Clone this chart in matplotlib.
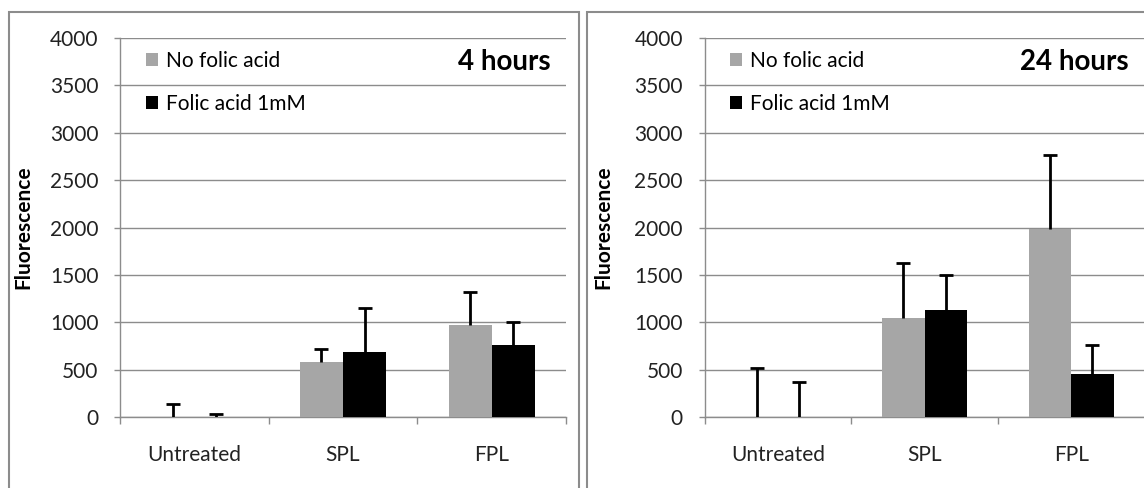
#!/usr/bin/env python3

import numpy as np
import matplotlib
matplotlib.use("Agg")
import matplotlib.pyplot as plt
from matplotlib.patches import Rectangle

plt.rcParams['font.family'] = ['Lato', 'DejaVu Sans']

categories = [ "Untreated", "SPL", "FPL" ]
series_names = [ "No folic acid", "Folic acid 1mM" ]
panel_titles = [ "4 hours", "24 hours" ]

# 4 hours
no_fa_4h = [ 3, 582, 968 ]
no_fa_4h_err = [ 135, 135, 355 ]
fa_4h = [ 2, 688, 760 ]
fa_4h_err = [ 25, 458, 247 ]

# 24 hours
no_fa_24h = [ 3, 1045, 1984 ]
no_fa_24h_err = [ 518, 580, 778 ]
fa_24h = [ 2, 1133, 451 ]
fa_24h_err = [ 368, 362, 306 ]

y_ticks = [ 0, 500, 1000, 1500, 2000, 2500, 3000, 3500, 4000 ]

GRAY = "#a6a6a6"
LINE = "#8c8c8c"
TXT = "#222222"
W, H = 1144, 488

def draw_panel( ax, a, a_err, b, b_err, title ):
    x = np.arange( len(categories) )
    bw = 0.29
    ax.bar( x - bw/2, a, bw, color=GRAY, label=series_names[0], zorder=2 )
    ax.bar( x + bw/2, b, bw, color="black", label=series_names[1], zorder=2 )
    for xs, vals, errs in [ ( x - bw/2, a, a_err ), ( x + bw/2, b, b_err ) ]:
        eb = ax.errorbar( xs, vals, yerr=[ np.zeros(len(errs)), errs ], fmt="none",
                          ecolor="black", elinewidth=2, capsize=5, capthick=2, zorder=3 )
        eb.lines[1][0].set_visible( False )

    ax.set_xlim( -0.5, 2.5 )
    ax.set_ylim( 0, 4000 )
    ax.set_yticks( y_ticks )
    ax.set_xticks( x )
    ax.set_xticklabels( categories )
    ax.set_xticks( [ -0.5, 0.5, 1.5, 2.5 ], minor=True )
    ax.tick_params( axis="x", which="major", length=0, pad=20, labelsize=15, colors=TXT )
    ax.tick_params( axis="x", which="minor", length=5, width=1, color=LINE, direction="out" )
    ax.tick_params( axis="y", length=4.5, width=1, color=LINE, pad=11, labelsize=15, labelcolor=TXT )

    ax.yaxis.grid( True, color=LINE, linewidth=1 )
    ax.set_axisbelow( True )
    for s in [ "top", "right" ]:
        ax.spines[s].set_visible( False )
    for s in [ "left", "bottom" ]:
        ax.spines[s].set_color( LINE )
        ax.spines[s].set_linewidth( 1 )
        ax.spines[s].set_zorder( 1 )

    ax.set_ylabel( "Fluorescence", fontsize=15, fontweight="bold" )
    ax.text( 0.965, 0.937, title, transform=ax.transAxes, ha="right", va="center",
             fontsize=20, fontweight="bold", color="black" )
    ax.legend( loc="upper left", bbox_to_anchor=( 0.058, 0.966 ), frameon=False,
               fontsize=15, handlelength=0.58, handleheight=0.58, handletextpad=0.38,
               labelspacing=1.1, borderpad=0, borderaxespad=0 )

fig = plt.figure( figsize=( W/100, H/100 ), dpi=100 )

# panel frames (pixel coords converted to figure fractions)
for x0, x1 in [ ( 9, 579 ), ( 587, 1160 ) ]:
    fig.patches.append( Rectangle( ( x0/W, -0.05 ), ( x1 - x0 )/W, 1.05 - 12/H,
                                   transform=fig.transFigure, fill=False,
                                   edgecolor=LINE, linewidth=1.5 ) )

ax1 = fig.add_axes( [ 120/W, 1 - 417/H, 446/W, 379/H ] )
ax2 = fig.add_axes( [ 704.5/W, 1 - 417/H, 440/W, 379/H ] )

draw_panel( ax1, no_fa_4h, no_fa_4h_err, fa_4h, fa_4h_err, panel_titles[0] )
draw_panel( ax2, no_fa_24h, no_fa_24h_err, fa_24h, fa_24h_err, panel_titles[1] )
ax1.yaxis.set_label_coords( -87/446, 0.5 )
ax2.yaxis.set_label_coords( -91.5/440, 0.5 )

plt.savefig( "out.png", dpi=100 )
